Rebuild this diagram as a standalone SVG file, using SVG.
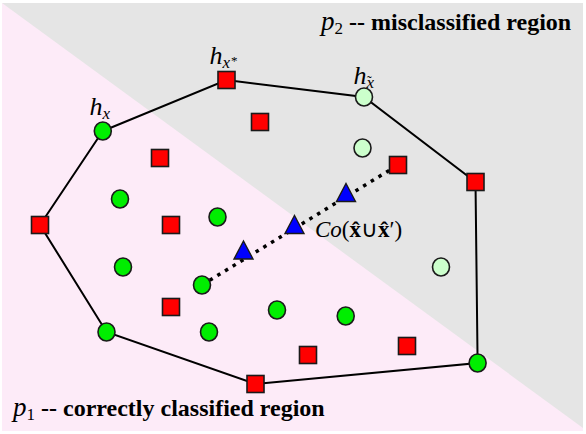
<svg xmlns="http://www.w3.org/2000/svg" width="586" height="434" viewBox="0 0 586 434">
<style>
.sq{fill:#ff0000;stroke:#1a1a1a;stroke-width:1.6}
.gc{fill:#00ee00;stroke:#1a1a1a;stroke-width:1.6}
.lc{fill:#ccffcc;stroke:#1a1a1a;stroke-width:1.6}
.tr{fill:#0000ff;stroke:#1a1a1a;stroke-width:1.4}
.hull{fill:none;stroke:#000;stroke-width:2}
.dots{fill:none;stroke:#000;stroke-width:3.5;stroke-dasharray:3.5 5.5}
.math{font-family:"Liberation Serif",serif;font-style:italic;fill:#000}
.rm{font-family:"Liberation Serif",serif;fill:#000}
.title{font-family:"Liberation Serif",serif;font-weight:bold;fill:#000}
</style>
<defs>
<rect id="s" x="-8.5" y="-8.5" width="17" height="17"/>
<ellipse id="c" cx="0" cy="0" rx="8.5" ry="9"/>
<polygon id="t" points="0,-9.5 9.5,8.5 -9.5,8.5"/>
</defs>
<rect x="0" y="0" width="586" height="434" fill="#ffffff"/>
<rect x="2" y="3" width="581" height="428" fill="#fdebf8"/>
<polygon points="2,3 583,3 583,428" fill="#e5e5e5"/>

<g id="connectors">
<polygon class="hull" points="102.8,131 226.5,80 364,97 475.5,182 477.6,363 255.5,384 106.5,332 40,225"/>
<line class="dots" x1="202" y1="285" x2="398" y2="165"/>
</g>

<g id="hx"><use href="#c" class="gc" x="102.8" y="131"/></g>
<g id="hxstar"><use href="#s" class="sq" x="226.5" y="80"/></g>
<g id="hxtilde"><use href="#c" class="lc" x="364" y="97"/></g>
<g id="n4"><use href="#s" class="sq" x="475.5" y="182"/></g>
<g id="n5"><use href="#c" class="gc" x="477.6" y="363"/></g>
<g id="n6"><use href="#s" class="sq" x="255.5" y="384"/></g>
<g id="n7"><use href="#c" class="gc" x="106.5" y="332"/></g>
<g id="n8"><use href="#s" class="sq" x="40" y="225"/></g>

<g id="n9"><use href="#s" class="sq" x="260" y="122"/></g>
<g id="n10"><use href="#s" class="sq" x="160" y="158"/></g>
<g id="n11"><use href="#s" class="sq" x="171" y="225"/></g>
<g id="n12"><use href="#s" class="sq" x="171" y="307"/></g>
<g id="n13"><use href="#s" class="sq" x="308" y="355"/></g>
<g id="n14"><use href="#s" class="sq" x="407" y="346"/></g>
<g id="n15"><use href="#s" class="sq" x="398" y="165"/></g>

<g id="n16"><use href="#c" class="gc" x="120" y="199"/></g>
<g id="n17"><use href="#c" class="gc" x="217.5" y="217"/></g>
<g id="n18"><use href="#c" class="gc" x="123" y="267"/></g>
<g id="n19"><use href="#c" class="gc" x="202" y="285"/></g>
<g id="n20"><use href="#c" class="gc" x="209" y="332"/></g>
<g id="n21"><use href="#c" class="gc" x="277" y="310"/></g>
<g id="n22"><use href="#c" class="gc" x="345.7" y="316"/></g>

<g id="n23"><use href="#c" class="lc" x="362.5" y="148"/></g>
<g id="n24"><use href="#c" class="lc" x="441" y="267"/></g>

<g id="t1"><use href="#t" class="tr" x="243.5" y="250.5"/></g>
<g id="t2"><use href="#t" class="tr" x="294.5" y="225"/></g>
<g id="t3"><use href="#t" class="tr" x="346" y="193"/></g>

<g id="labels">
<text class="math" x="89.5" y="115" font-size="26">h<tspan font-size="17" dy="4">x</tspan></text>
<text class="math" x="209.5" y="64" font-size="26">h<tspan font-size="17" dy="4">x</tspan><tspan class="rm" font-style="normal" font-size="13" dx="1" dy="-3">*</tspan></text>
<text class="math" x="353.5" y="84" font-size="26">h<tspan font-size="17" dy="4">x</tspan><tspan class="rm" font-style="normal" font-size="14" dx="-7" dy="-2">˜</tspan></text>

<text x="315" y="237" font-size="23"><tspan class="math">Co</tspan><tspan class="rm">(</tspan><tspan class="rm" font-weight="bold">x̂</tspan><tspan class="rm">∪</tspan><tspan class="rm" font-weight="bold">x̂</tspan><tspan class="rm">′)</tspan></text>

<text x="321" y="30" font-size="24"><tspan class="math" font-size="27">p</tspan><tspan class="rm" font-size="17" dy="4">2</tspan><tspan class="title" dy="-4"> -- misclassified region</tspan></text>
<text x="13" y="416" font-size="24"><tspan class="math" font-size="27">p</tspan><tspan class="rm" font-size="17" dy="4">1</tspan><tspan class="title" dy="-4"> -- correctly classified region</tspan></text>
</g>
</svg>
